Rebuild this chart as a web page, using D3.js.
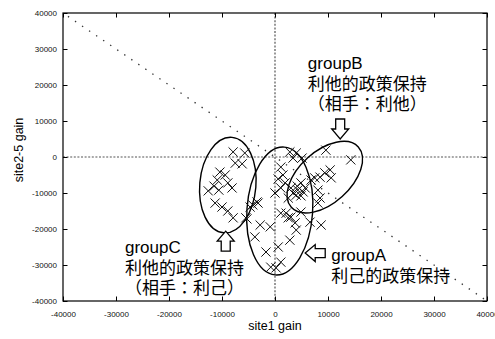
<!DOCTYPE html>
<html>
<head>
<meta charset="utf-8">
<script src="https://cdn.jsdelivr.net/npm/d3@7"></script>
<style>
  body { margin: 0; background: #fff; }
  svg { display: block; }
</style>
</head>
<body>
<svg id="chart" width="495" height="339"></svg>
<script>
// gain of each player: site1 (x) against sites 2-5 (y)
const site1Gain = [
  -7900, -5700, -7500, -6200, -10400, -9400, -10900, -8900, -8100, -11500,
  -12600, -10600, -11300, -10000, -8900, -7900, -5300, -4700, -3400, -2800,
  1100, 1500, 600, 1900, 0, 1100, -4200, -3200, 2800, 4000,
  3400, 5100, 3000, 4300, 5300, 4000, 4900, 3400, 2500, 4900,
  4200, 5700, 9600, 14300, 10400, 9400, 10600, 8500, 7500, 6800,
  8100, 8500, 8100, 1100, 2100, 3000, 3800, 4000, 4900, 2500,
  6600, 8700, -5500, -900, -3800, 2800, 600, -1700, 1100, -800,
  200
];
const site25Gain = [
  1400, 1100, -1700, -1900, -4200, -5000, -6400, -7200, -8600, -8100,
  -9400, -9200, -12800, -13900, -15000, -16900, -17200, -13900, -12500, -18900,
  -2800, -5000, -6100, -7200, -10000, -8600, -13300, -12800, 1400, 1100,
  -300, -300, -8600, -9200, -9700, -10600, -10800, -10000, -11400, -7200,
  -8100, -8600, 1900, -800, -3600, -4400, -5800, -5600, -5800, -6400,
  -9200, -11400, -12800, -15600, -15600, -16700, -18300, -20300, -15300, -16900,
  -18100, -18900, -16900, -19400, -22200, -23100, -25000, -26400, -29200, -30600,
  -30800
];

const axisTicks = [-40000, -30000, -20000, -10000, 0, 10000, 20000, 30000, 40000];

// group regions (data units) and their captions
const groupNames = ["groupA", "groupB", "groupC"];
const groupCaptions = [
  ["利己的政策保持"],
  ["利他的政策保持", "（相手：利他）"],
  ["利他的政策保持", "（相手：利己）"]
];
const groupCenterX = [900, 9400, -8900];
const groupCenterY = [-15000, -5600, -7800];
const groupRadiusX = [6200, 8500, 5300];
const groupRadiusY = [17800, 7200, 13300];
const groupTilt = [4, -42, 5];
const arrowTipX = [5700, 12300, -9300];
const arrowTipY = [-26700, 5000, -20600];
const arrowDirection = ["left", "down", "up"];
const captionX = [10600, 6200, -28300];
const captionY = [-28900, 24400, -26700];

const svg = d3.select("#chart");
const plotLeft = 63, plotRight = 487, plotTop = 13, plotBottom = 301;

const x = d3.scaleLinear().domain([-40000, 40000]).range([plotLeft, plotRight]);
const y = d3.scaleLinear().domain([-40000, 40000]).range([plotBottom, plotTop]);

const font = "'Liberation Sans', Arial, 'Noto Sans CJK JP', sans-serif";

// reference lines: zero axes and the y = -x diagonal
const refs = svg.append("g").attr("fill", "none");
refs.append("line")
  .attr("x1", x(0)).attr("x2", x(0)).attr("y1", y(40000)).attr("y2", y(-40000))
  .attr("stroke", "#555").attr("stroke-width", 1.2).attr("stroke-dasharray", "2,1.6");
refs.append("line")
  .attr("x1", x(-40000)).attr("x2", x(40000)).attr("y1", y(0)).attr("y2", y(0))
  .attr("stroke", "#555").attr("stroke-width", 1.2).attr("stroke-dasharray", "2,1.6");
refs.append("line")
  .attr("x1", x(-40000)).attr("y1", y(40000)).attr("x2", x(40000)).attr("y2", y(-40000))
  .attr("stroke", "#333").attr("stroke-width", 1.3).attr("stroke-dasharray", "1.4,7.1")
  .attr("stroke-dashoffset", -6);

// group ellipses
const groups = svg.append("g");
groupNames.forEach((name, i) => {
  const cx = x(groupCenterX[i]), cy = y(groupCenterY[i]);
  groups.append("ellipse")
    .attr("transform", `translate(${cx},${cy}) rotate(${groupTilt[i]})`)
    .attr("rx", x(groupCenterX[i] + groupRadiusX[i]) - cx)
    .attr("ry", cy - y(groupCenterY[i] + groupRadiusY[i]))
    .attr("fill", "none").attr("stroke", "#000").attr("stroke-width", 1.4);
});

// X markers
const s = 4.6;
const marks = svg.append("g").attr("stroke", "#111").attr("stroke-width", 1).attr("fill", "none");
marks.selectAll("path").data(d3.range(site1Gain.length)).join("path")
  .attr("d", i => {
    const px = x(site1Gain[i]), py = y(site25Gain[i]);
    return `M${px - s},${py - s}L${px + s},${py + s}M${px - s},${py + s}L${px + s},${py - s}`;
  });

// hollow block arrows pointing at each group
const arrowShape = "M-4.5,-20L4.5,-20L4.5,-10L8.5,-10L0,0L-8.5,-10L-4.5,-10Z";
const turn = { down: 0, left: 90, up: 180, right: -90 };
const arrows = svg.append("g");
groupNames.forEach((name, i) => {
  arrows.append("path")
    .attr("d", arrowShape)
    .attr("transform", `translate(${x(arrowTipX[i])},${y(arrowTipY[i])}) rotate(${turn[arrowDirection[i]]})`)
    .attr("fill", "#fff").attr("stroke", "#000").attr("stroke-width", 1.3)
    .attr("stroke-linejoin", "miter");
});

// captions
const captions = svg.append("g").attr("font-family", font).attr("font-size", 17).attr("fill", "#000");
groupNames.forEach((name, i) => {
  const t = captions.append("text").attr("x", x(captionX[i])).attr("y", y(captionY[i]));
  [name].concat(groupCaptions[i]).forEach((line, k) => {
    t.append("tspan").attr("x", x(captionX[i])).attr("dy", k === 0 ? 0 : 20.5).text(line);
  });
});

// frame
svg.append("rect")
  .attr("x", plotLeft).attr("y", plotTop).attr("width", plotRight - plotLeft).attr("height", plotBottom - plotTop)
  .attr("fill", "none").attr("stroke", "#000").attr("stroke-width", 1.2);

// inward ticks on all four sides, labels on bottom and left
const fmt = d => String(d);
const styleAxis = g => {
  g.select(".domain").remove();
  g.selectAll(".tick line").attr("stroke", "#000").attr("stroke-width", 1);
  g.selectAll(".tick text").attr("fill", "#111").attr("font-family", font).attr("font-size", 8);
};
svg.append("g").attr("transform", `translate(0,${plotBottom})`)
  .call(d3.axisBottom(x).tickValues(axisTicks).tickFormat(fmt).tickSizeInner(-4.5).tickSizeOuter(0).tickPadding(10.5))
  .call(styleAxis);
svg.append("g").attr("transform", `translate(0,${plotTop})`)
  .call(d3.axisTop(x).tickValues(axisTicks).tickFormat("").tickSizeInner(-4.5).tickSizeOuter(0))
  .call(styleAxis);
svg.append("g").attr("transform", `translate(${plotLeft},0)`)
  .call(d3.axisLeft(y).tickValues(axisTicks).tickFormat(fmt).tickSizeInner(-4.5).tickSizeOuter(0).tickPadding(6))
  .call(styleAxis);
svg.append("g").attr("transform", `translate(${plotRight},0)`)
  .call(d3.axisRight(y).tickValues(axisTicks).tickFormat("").tickSizeInner(-4.5).tickSizeOuter(0))
  .call(styleAxis);

// axis titles
svg.append("text")
  .attr("x", x(0)).attr("y", 330)
  .attr("text-anchor", "middle").attr("font-family", font).attr("font-size", 12.5).attr("fill", "#000")
  .text("site1 gain");
svg.append("text")
  .attr("transform", `translate(22.5,150) rotate(-90)`)
  .attr("text-anchor", "middle").attr("font-family", font).attr("font-size", 12.5).attr("fill", "#000")
  .text("site2-5 gain");
</script>
</body>
</html>
